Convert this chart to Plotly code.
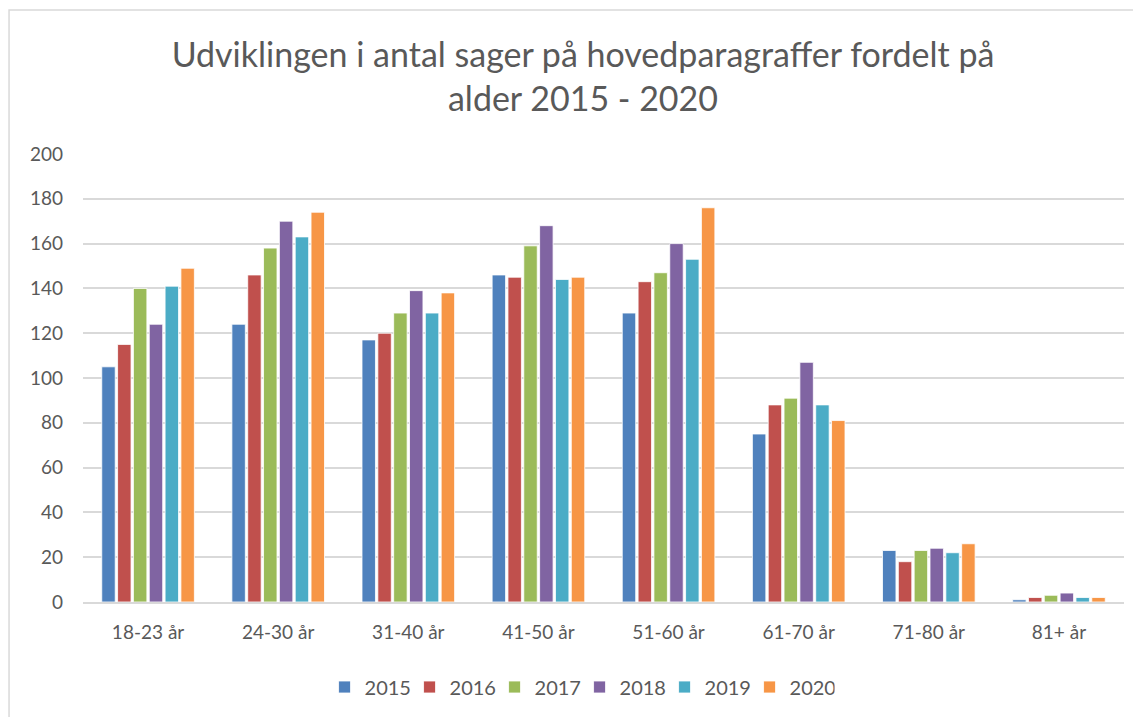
import plotly.graph_objects as go

# Age groups and case counts per year
age_groups = ["18-23 år", "24-30 år", "31-40 år", "41-50 år", "51-60 år", "61-70 år", "71-80 år", "81+ år"]
years = ["2015", "2016", "2017", "2018", "2019", "2020"]

v2015 = [105, 124, 117, 146, 129, 75, 23, 1]
v2016 = [115, 146, 120, 145, 143, 88, 18, 2]
v2017 = [140, 158, 129, 159, 147, 91, 23, 3]
v2018 = [124, 170, 139, 168, 160, 107, 24, 4]
v2019 = [141, 163, 129, 144, 153, 88, 22, 2]
v2020 = [149, 174, 138, 145, 176, 81, 26, 2]

series = [v2015, v2016, v2017, v2018, v2019, v2020]
colors = ["#4F81BD", "#C0504D", "#9BBB59", "#8064A2", "#4BACC6", "#F79646"]

# page has an 8px body margin, so figure coords = screen coords - 8
W, H = 1141, 717
OFF = 8
L, T = 83 - OFF, 154 - OFF
R = W - (1124 - OFF)
B = H - (602 - OFF)
FONT = "Lato, Calibri, Carlito, sans-serif"
TEXT = "#595959"

fig = go.Figure()
for name, vals, col in zip(years, series, colors):
    fig.add_trace(go.Bar(
        x=age_groups,
        y=vals,
        name=name,
        marker_color=col,
        marker_line=dict(color="rgba(255,255,255,0.8)", width=1),
    ))

# chart outer border (Excel chart area)
pw, ph = W - L - R, H - T - B
fig.add_shape(
    type="rect", xref="paper", yref="paper",
    x0=(8 - OFF - L) / pw + 0.001, x1=(W + 20 - L) / pw,
    y0=-(H + 40 - (H - B)) / ph, y1=(H - B - (9 - OFF)) / ph - 0.002,
    line=dict(color="#d9d9d9", width=1.5), layer="below",
)

fig.update_layout(
    width=W, height=H,
    paper_bgcolor="white", plot_bgcolor="white",
    margin=dict(l=L, r=R, t=T, b=B),
    barmode="group",
    bargap=0.27,
    bargroupgap=0.15,
    font=dict(family=FONT, color=TEXT, size=19),
    title=dict(
        text="Udviklingen i antal sager på hovedparagraffer fordelt på<br>alder 2015 - 2020",
        x=(583 - OFF) / W, xref="container", xanchor="center",
        y=1 - (67 - OFF) / H, yanchor="middle",
        font=dict(family=FONT, size=34, color=TEXT),
    ),
    legend=dict(
        orientation="h", x=0.477, xanchor="center",
        y=-(687 - 602) / ph, yanchor="middle",
        font=dict(size=20, color=TEXT),
        itemwidth=30, traceorder="normal",
        entrywidth=40, entrywidthmode="pixels",
    ),
    showlegend=True,
)

fig.update_xaxes(
    showgrid=False,
    showline=True, linecolor="#d9d9d9", linewidth=1.5,
    ticks="", ticklabelstandoff=12,
    tickfont=dict(size=19, color=TEXT),
)
fig.update_yaxes(
    range=[0, 200], dtick=20,
    showgrid=True, gridcolor="#d9d9d9", gridwidth=1.5,
    zeroline=False, showline=False,
    ticks="", ticklabelstandoff=19,
    tickfont=dict(size=19, color=TEXT),
)

fig.write_html("out.html")
